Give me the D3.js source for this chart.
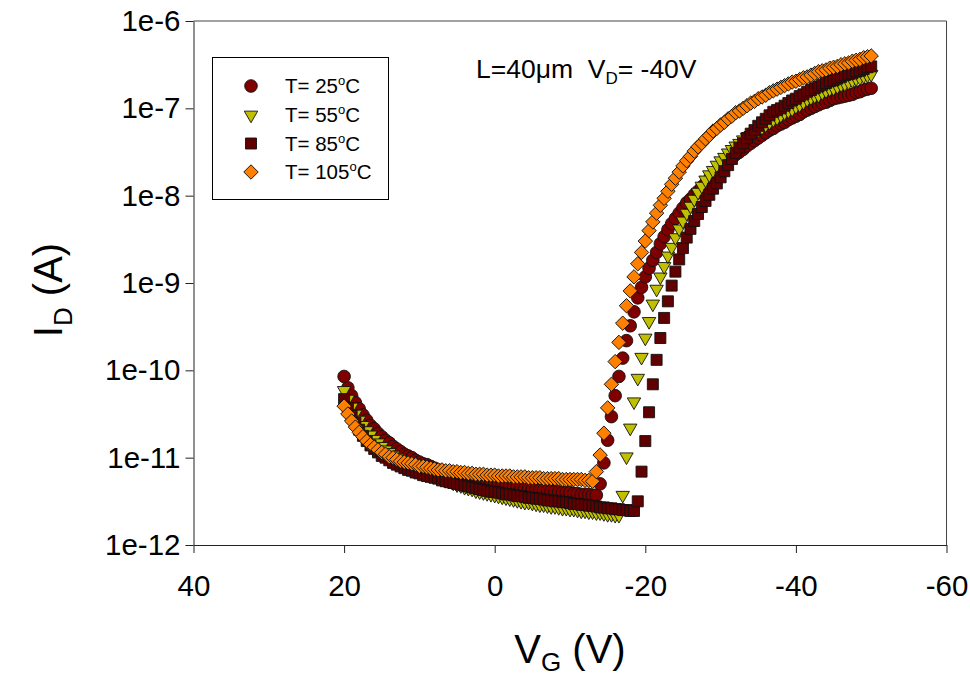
<!DOCTYPE html>
<html>
<head>
<meta charset="utf-8">
<script src="https://cdn.jsdelivr.net/npm/d3@7"></script>
<style>
  body { margin: 0; background: #fff; }
  svg { display: block; }
  text { font-family: "Liberation Sans", Arial, sans-serif; fill: #000; }
</style>
</head>
<body>
<svg id="chart" width="970" height="677"></svg>
<script>
// Gate voltage sweep (V), +20 V down to -50 V in 0.5 V steps
const gateVoltage = [
  20,19.5,19,18.5,18,17.5,17,16.5,16,15.5,15,14.5,14,13.5,13,12.5,12,11.5,11,10.5,
  10,9.5,9,8.5,8,7.5,7,6.5,6,5.5,5,4.5,4,3.5,3,2.5,2,1.5,1,0.5,
  0,-0.5,-1,-1.5,-2,-2.5,-3,-3.5,-4,-4.5,-5,-5.5,-6,-6.5,-7,-7.5,-8,-8.5,-9,-9.5,
  -10,-10.5,-11,-11.5,-12,-12.5,-13,-13.5,-14,-14.5,-15,-15.5,-16,-16.5,-17,-17.5,-18,-18.5,-19,-19.5,
  -20,-20.5,-21,-21.5,-22,-22.5,-23,-23.5,-24,-24.5,-25,-25.5,-26,-26.5,-27,-27.5,-28,-28.5,-29,-29.5,
  -30,-30.5,-31,-31.5,-32,-32.5,-33,-33.5,-34,-34.5,-35,-35.5,-36,-36.5,-37,-37.5,-38,-38.5,-39,-39.5,
  -40,-40.5,-41,-41.5,-42,-42.5,-43,-43.5,-44,-44.5,-45,-45.5,-46,-46.5,-47,-47.5,-48,-48.5,-49,-49.5,
  -50
];

// Drain current, log10(I_D / A), one value per gate voltage
const logId25C = [
  -10.07,-10.20,-10.29,-10.37,-10.44,-10.51,-10.57,-10.63,-10.67,-10.72,-10.76,-10.80,-10.83,-10.87,-10.90,-10.93,-10.96,-10.98,-11.00,-11.03,
  -11.05,-11.07,-11.08,-11.10,-11.12,-11.14,-11.15,-11.16,-11.18,-11.19,-11.20,-11.21,-11.22,-11.23,-11.24,-11.25,-11.26,-11.27,-11.28,-11.28,
  -11.29,-11.30,-11.31,-11.31,-11.32,-11.33,-11.33,-11.34,-11.35,-11.35,-11.36,-11.36,-11.37,-11.37,-11.38,-11.38,-11.39,-11.39,-11.40,-11.40,
  -11.40,-11.41,-11.41,-11.42,-11.42,-11.42,-11.43,-11.43,-11.30,-11.06,-10.80,-10.53,-10.29,-10.07,-9.86,-9.66,-9.49,-9.33,-9.17,-9.05,
  -8.93,-8.83,-8.74,-8.65,-8.55,-8.47,-8.39,-8.32,-8.26,-8.20,-8.14,-8.08,-8.04,-7.99,-7.95,-7.90,-7.86,-7.81,-7.76,-7.73,
  -7.68,-7.65,-7.61,-7.57,-7.53,-7.50,-7.47,-7.43,-7.40,-7.37,-7.34,-7.31,-7.28,-7.25,-7.23,-7.20,-7.18,-7.16,-7.13,-7.11,
  -7.09,-7.07,-7.04,-7.02,-7.00,-6.98,-6.96,-6.94,-6.93,-6.91,-6.89,-6.88,-6.87,-6.86,-6.85,-6.84,-6.82,-6.81,-6.79,-6.78,
  -6.77
];
const logId55C = [
  -10.23,-10.33,-10.42,-10.50,-10.57,-10.63,-10.69,-10.74,-10.79,-10.83,-10.87,-10.91,-10.94,-10.97,-11.00,-11.03,-11.05,-11.07,-11.10,-11.12,
  -11.14,-11.15,-11.17,-11.19,-11.20,-11.22,-11.24,-11.26,-11.27,-11.29,-11.31,-11.32,-11.34,-11.35,-11.36,-11.38,-11.39,-11.40,-11.41,-11.42,
  -11.43,-11.44,-11.45,-11.46,-11.47,-11.48,-11.49,-11.50,-11.51,-11.51,-11.52,-11.53,-11.54,-11.54,-11.55,-11.56,-11.56,-11.57,-11.58,-11.58,
  -11.59,-11.59,-11.60,-11.61,-11.61,-11.62,-11.62,-11.63,-11.63,-11.64,-11.65,-11.65,-11.66,-11.66,-11.43,-10.99,-10.66,-10.36,-10.09,-9.85,
  -9.63,-9.44,-9.24,-9.07,-8.93,-8.81,-8.69,-8.59,-8.48,-8.38,-8.29,-8.20,-8.12,-8.04,-7.96,-7.89,-7.82,-7.76,-7.71,-7.65,
  -7.60,-7.56,-7.51,-7.47,-7.43,-7.40,-7.36,-7.33,-7.31,-7.28,-7.25,-7.22,-7.19,-7.16,-7.13,-7.11,-7.08,-7.05,-7.03,-7.01,
  -6.98,-6.96,-6.93,-6.90,-6.88,-6.86,-6.85,-6.82,-6.80,-6.78,-6.77,-6.75,-6.73,-6.72,-6.70,-6.68,-6.66,-6.65,-6.63,-6.62,
  -6.61
];
const logId85C = [
  -10.33,-10.43,-10.52,-10.60,-10.68,-10.75,-10.81,-10.86,-10.90,-10.94,-10.98,-11.00,-11.03,-11.06,-11.08,-11.10,-11.12,-11.14,-11.15,-11.17,
  -11.18,-11.20,-11.21,-11.22,-11.23,-11.24,-11.26,-11.27,-11.28,-11.29,-11.30,-11.31,-11.32,-11.33,-11.34,-11.35,-11.36,-11.37,-11.38,-11.39,
  -11.39,-11.40,-11.41,-11.42,-11.42,-11.43,-11.44,-11.44,-11.45,-11.46,-11.46,-11.47,-11.47,-11.48,-11.49,-11.49,-11.50,-11.50,-11.51,-11.51,
  -11.52,-11.53,-11.53,-11.54,-11.54,-11.55,-11.55,-11.56,-11.57,-11.57,-11.58,-11.58,-11.59,-11.59,-11.60,-11.60,-11.61,-11.61,-11.50,-11.16,
  -10.81,-10.48,-10.16,-9.88,-9.63,-9.40,-9.21,-9.03,-8.87,-8.73,-8.60,-8.48,-8.38,-8.29,-8.21,-8.13,-8.06,-7.99,-7.92,-7.86,
  -7.79,-7.72,-7.65,-7.58,-7.51,-7.45,-7.40,-7.34,-7.29,-7.25,-7.20,-7.16,-7.12,-7.08,-7.04,-7.02,-7.00,-6.97,-6.94,-6.91,
  -6.89,-6.86,-6.84,-6.81,-6.79,-6.77,-6.75,-6.73,-6.71,-6.69,-6.68,-6.66,-6.64,-6.62,-6.61,-6.60,-6.58,-6.57,-6.55,-6.53,
  -6.52
];
const logId105C = [
  -10.41,-10.50,-10.58,-10.65,-10.71,-10.76,-10.81,-10.85,-10.88,-10.91,-10.94,-10.96,-10.99,-11.00,-11.02,-11.04,-11.05,-11.06,-11.07,-11.08,
  -11.10,-11.10,-11.11,-11.12,-11.13,-11.14,-11.14,-11.15,-11.15,-11.16,-11.16,-11.17,-11.17,-11.18,-11.18,-11.19,-11.19,-11.19,-11.20,-11.20,
  -11.20,-11.21,-11.21,-11.21,-11.21,-11.22,-11.22,-11.22,-11.22,-11.23,-11.23,-11.23,-11.23,-11.24,-11.24,-11.24,-11.24,-11.24,-11.25,-11.25,
  -11.25,-11.25,-11.25,-11.25,-11.26,-11.26,-11.27,-11.16,-10.97,-10.72,-10.43,-10.16,-9.90,-9.68,-9.46,-9.26,-9.09,-8.93,-8.78,-8.65,
  -8.52,-8.40,-8.30,-8.20,-8.11,-8.03,-7.95,-7.87,-7.80,-7.73,-7.66,-7.60,-7.55,-7.49,-7.44,-7.40,-7.35,-7.31,-7.26,-7.23,
  -7.19,-7.16,-7.12,-7.09,-7.05,-7.03,-7.00,-6.97,-6.94,-6.92,-6.89,-6.87,-6.85,-6.82,-6.80,-6.78,-6.76,-6.74,-6.72,-6.70,
  -6.69,-6.67,-6.65,-6.64,-6.62,-6.60,-6.58,-6.57,-6.56,-6.54,-6.53,-6.52,-6.50,-6.49,-6.48,-6.46,-6.45,-6.44,-6.42,-6.41,
  -6.40
];

const temperatures = ["25", "55", "85", "105"];
const xTickValues = [40, 20, 0, -20, -40, -60];
const yTickExponents = [-12, -11, -10, -9, -8, -7, -6];

const svg = d3.select("#chart");
const plot = { left: 193.5, right: 946.5, top: 21, bottom: 545 };

const x = d3.scaleLinear().domain([40, -60]).range([plot.left, plot.right]);
const y = d3.scaleLog().domain([1e-12, 1e-6]).range([plot.bottom, plot.top]);

// marker style per temperature
const markerStyles = [
  { type: d3.symbolCircle,   size: 125, rotate: 0,   fill: "#800000" },
  { type: d3.symbolTriangle, size: 78,  rotate: 180, fill: "#c0c000" },
  { type: d3.symbolSquare,   size: 121, rotate: 0,   fill: "#600000" },
  { type: d3.symbolSquare,   size: 104, rotate: 45,  fill: "#ff8000" }
];
const seriesLogs = [logId25C, logId55C, logId85C, logId105C];
const series = temperatures.map((t, i) => ({
  label: t,
  style: markerStyles[i],
  points: gateVoltage.map((v, j) => ({ vg: v, id: Math.pow(10, seriesLogs[i][j]) }))
}));

// frame: top and right borders
const lineColor = "#222";
svg.append("line").attr("x1", plot.left).attr("x2", plot.right).attr("y1", plot.top).attr("y2", plot.top)
  .attr("stroke", "#444").attr("stroke-width", 1);
svg.append("line").attr("x1", plot.right).attr("x2", plot.right).attr("y1", plot.top).attr("y2", plot.bottom)
  .attr("stroke", "#444").attr("stroke-width", 1);

const tickFont = 29.5;

// y axis
const yAxis = d3.axisLeft(y)
  .tickValues(yTickExponents.map(e => Math.pow(10, e)))
  .tickFormat(d => "1e" + Math.round(Math.log10(d)))
  .tickSizeInner(8).tickSizeOuter(0).tickPadding(5);
const gy = svg.append("g").attr("transform", `translate(${plot.left},0)`).call(yAxis);
gy.select(".domain").attr("stroke", lineColor);
gy.selectAll(".tick line").attr("stroke", lineColor);
gy.selectAll(".tick text").attr("font-size", tickFont).attr("font-family", "Liberation Sans, Arial, sans-serif").attr("fill", "#000");

// x axis
const xAxis = d3.axisBottom(x)
  .tickValues(xTickValues)
  .tickFormat(d => String(d))
  .tickSizeInner(8).tickSizeOuter(0).tickPadding(22);
const gx = svg.append("g").attr("transform", `translate(0,${plot.bottom})`).call(xAxis);
gx.select(".domain").attr("stroke", lineColor);
gx.selectAll(".tick line").attr("stroke", lineColor);
gx.selectAll(".tick text").attr("font-size", tickFont).attr("font-family", "Liberation Sans, Arial, sans-serif").attr("fill", "#000");

// data markers, later temperatures drawn on top
const symbolPath = s => d3.symbol().type(s.type).size(s.size)();
series.forEach(s => {
  svg.append("g").selectAll("path").data(s.points).join("path")
    .attr("d", symbolPath(s.style))
    .attr("transform", d => `translate(${x(d.vg)},${y(d.id)}) rotate(${s.style.rotate})`)
    .attr("fill", s.style.fill)
    .attr("stroke", "#111").attr("stroke-width", 0.9);
});

// legend
const legend = svg.append("g");
legend.append("rect").attr("x", 212.5).attr("y", 57.5).attr("width", 176).attr("height", 142)
  .attr("fill", "#fff").attr("stroke", "#000").attr("stroke-width", 1);
const legendRows = [86, 115, 143.5, 172];
series.forEach((s, i) => {
  legend.append("path").attr("d", symbolPath(s.style))
    .attr("transform", `translate(251,${legendRows[i]}) rotate(${s.style.rotate})`)
    .attr("fill", s.style.fill).attr("stroke", "#111").attr("stroke-width", 0.9);
  const t = legend.append("text").attr("x", 285).attr("y", legendRows[i] + 7).attr("font-size", 20.5);
  t.append("tspan").text("T= " + s.label);
  t.append("tspan").attr("font-size", 13).attr("dy", -8).text("o");
  t.append("tspan").attr("dy", 8).text("C");
});

// measurement conditions
const cond = svg.append("text").attr("x", 476).attr("y", 78).attr("font-size", 26.5)
  .style("white-space", "pre");
cond.append("tspan").text("L=40\u03bcm  V");
cond.append("tspan").attr("font-size", 17).attr("dy", 6).text("D");
cond.append("tspan").attr("dy", -6).text("= -40V");

// axis titles
const yTitle = svg.append("text").attr("transform", "translate(62,290) rotate(-90)")
  .attr("text-anchor", "middle").attr("font-size", 40);
yTitle.append("tspan").text("I");
yTitle.append("tspan").attr("font-size", 26).attr("dy", 10).text("D");
yTitle.append("tspan").attr("dy", -10).text(" (A)");

const xTitle = svg.append("text").attr("x", 570).attr("y", 663)
  .attr("text-anchor", "middle").attr("font-size", 40);
xTitle.append("tspan").text("V");
xTitle.append("tspan").attr("font-size", 26).attr("dy", 8).text("G");
xTitle.append("tspan").attr("dy", -8).text(" (V)");
</script>
</body>
</html>
